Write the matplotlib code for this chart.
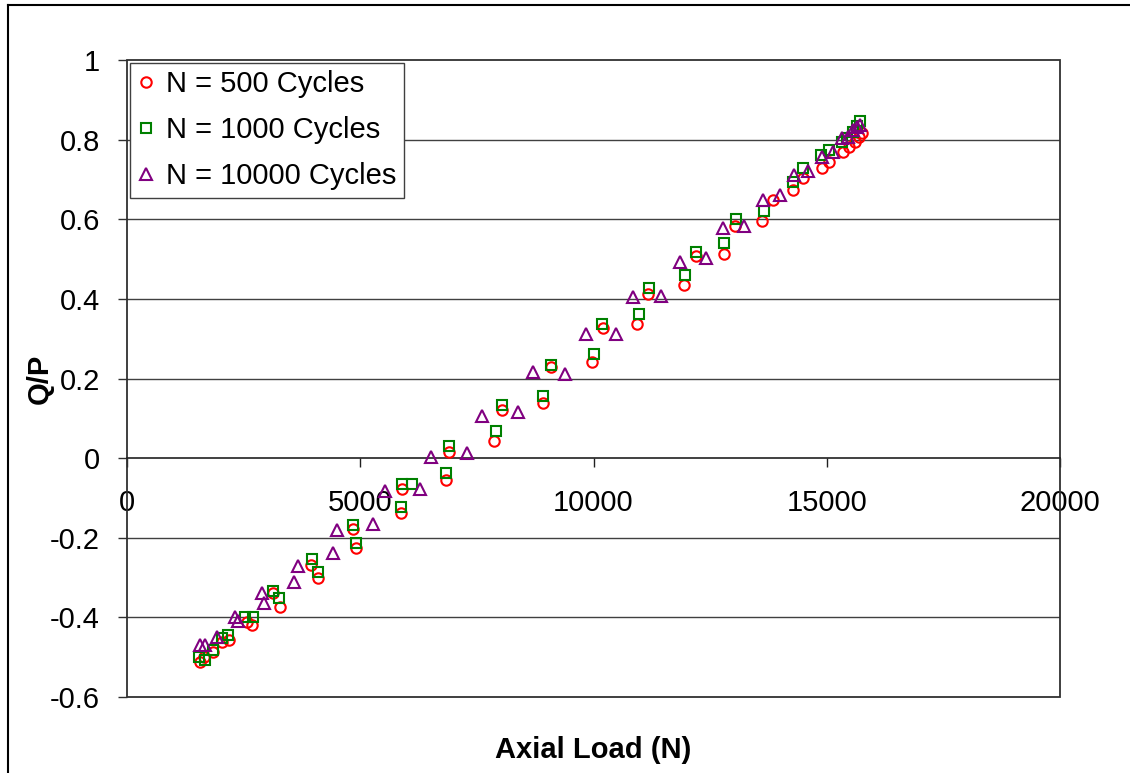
import matplotlib
matplotlib.use('Agg')
import matplotlib.pyplot as plt
from matplotlib.patches import Rectangle
from matplotlib.lines import Line2D
from matplotlib.ticker import FixedLocator, FixedFormatter

# ---- data ----
load_500 = [1565, 1651, 1850, 2030, 2186, 2572, 2680, 3140, 3279, 3944, 4088,
            4851, 4902, 5867, 5902, 6832, 6903, 7873, 8039, 8924, 9089, 9974,
            10210, 10939, 11175, 11946, 12191, 12797, 13033, 13605, 13848,
            14283, 14497, 14891, 15048, 15348, 15475, 15605, 15691, 15755]
qp_500 = [-0.511, -0.500, -0.486, -0.462, -0.458, -0.412, -0.420, -0.339, -0.373,
          -0.268, -0.302, -0.179, -0.227, -0.139, -0.078, -0.055, 0.015, 0.044,
          0.121, 0.139, 0.230, 0.242, 0.328, 0.336, 0.412, 0.436, 0.507, 0.512,
          0.583, 0.596, 0.648, 0.673, 0.703, 0.729, 0.744, 0.769, 0.781, 0.794,
          0.807, 0.817]

load_1000 = [1550, 1672, 1850, 2036, 2171, 2540, 2701, 3140, 3269, 3959, 4088,
             4851, 4902, 5867, 5902, 6109, 6832, 6903, 7916, 8039, 8924, 9089,
             10010, 10176, 10982, 11190, 11955, 12197, 12797, 13048, 13648,
             14283, 14484, 14877, 15048, 15327, 15434, 15562, 15648, 15712]
qp_1000 = [-0.500, -0.507, -0.482, -0.452, -0.444, -0.399, -0.399, -0.333, -0.351,
           -0.254, -0.287, -0.168, -0.212, -0.122, -0.066, -0.065, -0.037, 0.030,
           0.068, 0.133, 0.157, 0.233, 0.261, 0.337, 0.361, 0.427, 0.460, 0.517,
           0.541, 0.601, 0.621, 0.694, 0.728, 0.761, 0.774, 0.794, 0.804, 0.819,
           0.834, 0.847]

load_10000 = [1565, 1672, 1923, 2315, 2369, 2894, 2943, 3580, 3672, 4422, 4508,
              5280, 5530, 6287, 6523, 7295, 7616, 8382, 8703, 9395, 9839, 10482,
              10847, 11447, 11854, 12418, 12782, 13220, 13627, 13998, 14304,
              14604, 14891, 15140, 15320, 15462, 15569, 15641, 15712]
qp_10000 = [-0.469, -0.469, -0.449, -0.398, -0.408, -0.339, -0.363, -0.310, -0.271,
            -0.238, -0.181, -0.166, -0.083, -0.078, 0.004, 0.012, 0.106, 0.117,
            0.216, 0.211, 0.313, 0.313, 0.404, 0.408, 0.493, 0.503, 0.579, 0.583,
            0.648, 0.661, 0.711, 0.721, 0.757, 0.770, 0.803, 0.807, 0.824, 0.832,
            0.837]

series_labels = ['N = 500 Cycles', 'N = 1000 Cycles', 'N = 10000 Cycles']
x_ticks = [0, 5000, 10000, 15000, 20000]
x_tick_labels = ['0', '5000', '10000', '15000', '20000']
y_ticks = [-0.6, -0.4, -0.2, 0, 0.2, 0.4, 0.6, 0.8, 1.0]
y_tick_labels = ['-0.6', '-0.4', '-0.2', '0', '0.2', '0.4', '0.6', '0.8', '1']
x_label = 'Axial Load (N)'
y_label = 'Q/P'

# ---- figure ----
plt.rcParams['font.family'] = ['Liberation Sans', 'DejaVu Sans']
W, H = 1130, 773
fig = plt.figure(figsize=(W / 100, H / 100), dpi=100)
L, R, T, B = 127, 1060, 60, 697
ax = fig.add_axes([L / W, 1 - B / H, (R - L) / W, (B - T) / H])

ax.set_xlim(0, 20000)
ax.set_ylim(-0.6, 1.0)

fs = 21
ms = dict(linestyle='none', markerfacecolor='none', markeredgewidth=1.5)
ax.plot(load_500, qp_500, marker='o', markersize=7.5, markeredgecolor='#FF0000',
        label=series_labels[0], zorder=4, **ms)
ax.plot(load_1000, qp_1000, marker='s', markersize=7.5, markeredgecolor='#008000',
        label=series_labels[1], zorder=4, **ms)
ax.plot(load_10000, qp_10000, marker='^', markersize=8.5, markeredgecolor='#800080',
        label=series_labels[2], zorder=4, **ms)

# grid lines
for yv in y_ticks:
    if yv not in (-0.6, 0, 1.0):
        ax.axhline(yv, color='#404040', linewidth=1.0, zorder=1)

# spines: x axis at y=0, frame drawn as a rectangle
for s in ['top', 'right', 'left', 'bottom']:
    ax.spines[s].set_visible(False)
ax.spines['bottom'].set_visible(True)
ax.spines['bottom'].set_position(('data', 0))
ax.spines['bottom'].set_color('#202020')
ax.spines['bottom'].set_linewidth(1.2)
ax.add_patch(Rectangle((0, 0), 1, 1, transform=ax.transAxes, fill=False,
                       edgecolor='#303030', linewidth=1.3, clip_on=False, zorder=2))

ax.xaxis.set_major_locator(FixedLocator(x_ticks))
ax.xaxis.set_major_formatter(FixedFormatter(x_tick_labels))
ax.yaxis.set_major_locator(FixedLocator(y_ticks))
ax.yaxis.set_major_formatter(FixedFormatter(y_tick_labels))
ax.tick_params(axis='x', direction='out', length=6.5, width=1.0, pad=16,
               labelsize=fs, colors='#202020', labelcolor='black')
ax.tick_params(axis='y', direction='out', length=6.5, width=1.0, pad=13,
               labelsize=fs, colors='#303030', labelcolor='black')

ax.set_xlabel(x_label, fontsize=fs, fontweight='bold', va='center')
ax.xaxis.set_label_coords(0.5, (B - 750) / (B - T))
ax.set_ylabel(y_label, fontsize=fs, fontweight='bold', va='center')
ax.yaxis.set_label_coords((40 - L) / (R - L), 0.5)

leg = ax.legend(loc='upper left', bbox_to_anchor=(0, 1), borderaxespad=0.1,
                fontsize=fs, frameon=True, fancybox=False, framealpha=1,
                edgecolor='#404040', handlelength=0.6, handletextpad=0.4,
                borderpad=0.25, labelspacing=0.62)
leg.get_frame().set_linewidth(1.0)
leg.set_zorder(5)

# outer frame (left and top border of the chart area)
fx = 8 / W
fy = 1 - 5 / H
fig.add_artist(Line2D([fx, fx], [0, fy], transform=fig.transFigure,
                      color='black', linewidth=1.5))
fig.add_artist(Line2D([fx, 1], [fy, fy], transform=fig.transFigure,
                      color='black', linewidth=1.5))

fig.savefig('out.png', dpi=100, facecolor='white')
